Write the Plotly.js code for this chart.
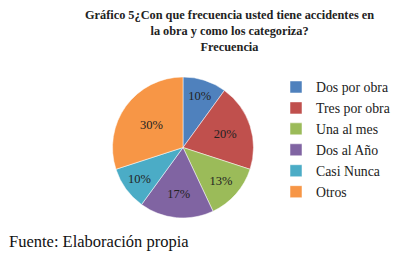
<!DOCTYPE html>
<html><head><meta charset="utf-8">
<script src="https://cdn.plot.ly/plotly-3.0.1.min.js"></script>
<style>html,body{margin:0;padding:0;background:#fff;}</style>
</head><body><div id="chart" style="width:393px;height:258px;"></div>
<script>
const categories = ["Dos por obra", "Tres por obra", "Una al mes", "Dos al Año", "Casi Nunca", "Otros"];
const values = [10, 20, 13, 17, 10, 30];
const colors = ["#4F81BD", "#C0504D", "#9BBB59", "#8064A2", "#4BACC6", "#F79646"];
const titleLines = ["Gráfico 5¿Con que frecuencia usted tiene accidentes en", "la obra y como los categoriza?", "Frecuencia"];
const sourceNote = "Fuente: Elaboración propia";

const W = 393, H = 258;
const FAM = "Liberation Serif";

const trace = {
  type: "pie",
  labels: categories,
  values: values,
  sort: false,
  direction: "clockwise",
  rotation: 0,
  marker: {colors: colors, line: {color: "#ffffff", width: 0.5}},
  textinfo: "percent",
  textposition: "inside",
  textfont: {family: FAM, size: 12.5, color: "#222"},
  insidetextfont: {family: FAM, size: 12.5, color: "#222"},
  insidetextorientation: "horizontal",
  domain: {x: [112 / W, 254 / W], y: [(H - 218) / H, (H - 77) / H]},
  hoverinfo: "label+percent"
};

const layout = {
  width: W, height: H,
  font: {family: FAM, color: "#222"},
  margin: {l: 0, r: 0, t: 0, b: 0, autoexpand: false},
  paper_bgcolor: "#fff",
  showlegend: true,
  legend: {
    x: 276 / W, y: 1 - 71.5 / H, xanchor: "left", yanchor: "top",
    font: {family: FAM, size: 13.8, color: "#222"},
    itemwidth: 30,
    bgcolor: "rgba(0,0,0,0)"
  },
  annotations: [
    {text: "<b>" + titleLines.join("<br>") + "</b>", xref: "paper", yref: "paper",
     x: 229 / W, y: 1 - 6 / H, xanchor: "center", yanchor: "top", showarrow: false,
     font: {family: FAM, size: 12.3, color: "#222"}, align: "center"},
    {text: sourceNote, xref: "paper", yref: "paper", x: 7 / W, y: 1 - 230 / H,
     xanchor: "left", yanchor: "top", showarrow: false,
     font: {family: FAM, size: 16.5, color: "#111"}}
  ]
};

Plotly.newPlot("chart", [trace], layout, {displayModeBar: false, staticPlot: true});
</script></body></html>
